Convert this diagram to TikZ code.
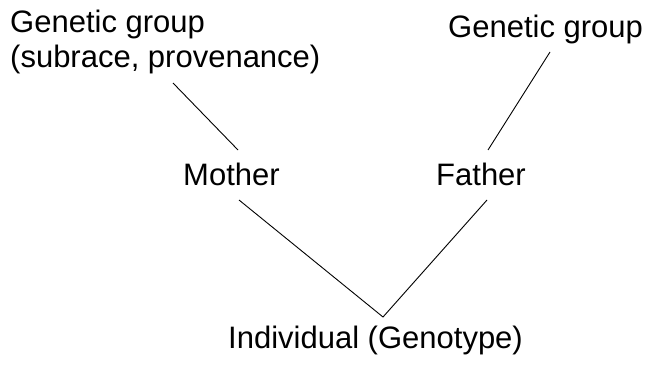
\documentclass[tikz,border=0pt]{standalone}
\usepackage{fontspec}
\setmainfont{Liberation Sans}
\begin{document}
\begin{tikzpicture}[x=1pt,y=-1pt,
  lbl/.style={inner sep=0pt,anchor=base west,font=\fontsize{31}{35}\selectfont},
  conn/.style={draw=black,line width=0.9pt}]
\useasboundingbox (0,0) rectangle (652,366);
\node[lbl] (gg1) at (10,33) {Genetic group};
\node[lbl] (gg1b) at (10,68) {(subrace, provenance)};
\node[lbl] (gg2) at (448,38) {Genetic group};
\node[lbl] (mother) at (183,185) {Mother};
\node[lbl] (father) at (436,185) {Father};
\node[lbl] (ind) at (228,348) {Individual (Genotype)};
\coordinate (a1) at (173,83);
\coordinate (a2) at (238,150);
\coordinate (b1) at (550,52);
\coordinate (b2) at (488,150);
\coordinate (c1) at (239,200);
\coordinate (c2) at (487,200);
\coordinate (v) at (383,317);
\draw[conn] (a1) -- (a2);
\draw[conn] (b1) -- (b2);
\draw[conn] (c1) -- (v) -- (c2);
\end{tikzpicture}
\end{document}
